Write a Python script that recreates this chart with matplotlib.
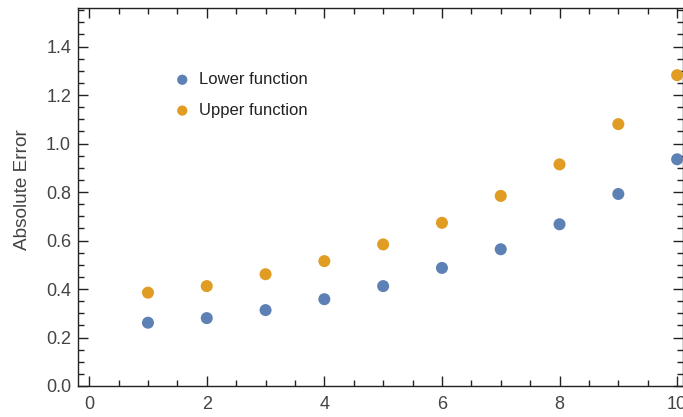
import matplotlib.pyplot as plt
from matplotlib.ticker import MultipleLocator

plt.rcParams['font.family'] = ['Liberation Sans', 'DejaVu Sans']

# datos
n = [1, 2, 3, 4, 5, 6, 7, 8, 9, 10]
lower = [0.261, 0.280, 0.313, 0.358, 0.412, 0.487, 0.564, 0.667, 0.792, 0.935]
upper = [0.385, 0.412, 0.461, 0.515, 0.584, 0.673, 0.784, 0.914, 1.080, 1.282]

azul = '#5E81B5'
naranja = '#E19C24'

fig = plt.figure(figsize=(6.83, 4.17), dpi=100)
ax = fig.add_axes([78/683, 1 - 386/417, 605/683, 378/417])

ax.scatter(n, lower, s=75, color=azul, label='Lower function', zorder=3, edgecolors='none')
ax.scatter(n, upper, s=75, color=naranja, label='Upper function', zorder=3, edgecolors='none')

ax.set_xlim(-0.19, 10.1)
ax.set_ylim(0, 1.559)
ax.xaxis.set_major_locator(MultipleLocator(2))
ax.xaxis.set_minor_locator(MultipleLocator(0.5))
ax.yaxis.set_major_locator(MultipleLocator(0.2))
ax.yaxis.set_minor_locator(MultipleLocator(0.05))
ax.yaxis.set_major_formatter(plt.FuncFormatter(lambda v, p: f'{v:.1f}'))

ax.tick_params(which='both', direction='in', top=True, right=True,
               colors='#222222', labelcolor='#444444', labelsize=13, width=1)
ax.tick_params(which='major', length=7)
ax.tick_params(which='minor', length=4)
ax.tick_params(axis='x', which='major', pad=7)
ax.tick_params(axis='y', which='major', pad=5)
for s in ax.spines.values():
    s.set_color('#222222')
    s.set_linewidth(1)

ax.set_ylabel('Absolute Error', fontsize=13.7, color='#444444')
ax.yaxis.set_label_coords(-0.077, 0.52)

ax.legend(loc='upper left', bbox_to_anchor=(0.12, 0.87), frameon=False,
          fontsize=12, handletextpad=0.0, labelspacing=0.95, scatterpoints=1,
          markerscale=0.85, labelcolor='#222222')

fig.savefig('out.png', dpi=100)
